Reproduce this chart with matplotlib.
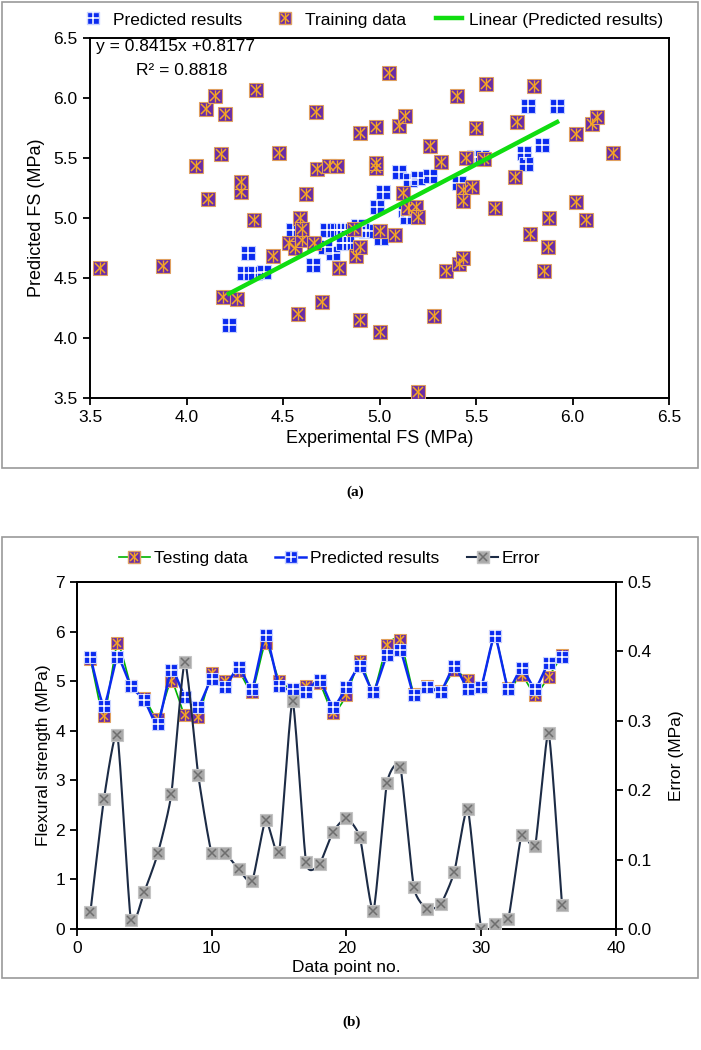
import numpy as np
import matplotlib
matplotlib.use("Agg")
import matplotlib.pyplot as plt
from matplotlib.lines import Line2D
from matplotlib.patches import Rectangle

# ---- data: panel (a) ----
pred_x = [4.22, 4.30, 4.32, 4.355, 4.40, 4.55, 4.657, 4.73, 4.76, 4.78, 4.82, 4.83,
          4.89, 4.93, 4.985, 5.01, 5.02, 5.00, 5.10, 5.13, 5.14, 5.16, 5.20, 5.26,
          5.41, 5.49, 5.53, 5.75, 5.76, 5.77, 5.84, 5.92, 4.91, 4.80, 4.72, 4.81]
pred_y = [4.11, 4.54, 4.71, 4.54, 4.55, 4.90, 4.61, 4.90, 4.71, 4.90, 4.90, 4.79,
          4.93, 4.89, 5.09, 4.83, 5.22, 4.89, 5.38, 5.07, 5.01, 5.32, 5.33, 5.35,
          5.29, 5.51, 5.51, 5.54, 5.45, 5.93, 5.61, 5.93, 4.90, 4.90, 4.76, 4.79]

train_x = [3.55, 3.88, 4.19, 4.26, 4.05, 4.10, 4.15, 4.20, 4.11, 4.18, 4.28, 4.28,
           4.35, 4.36, 4.45, 4.48, 4.53, 4.56, 4.60, 4.66, 4.58, 4.59, 4.60, 4.62,
           4.67, 4.675, 4.70, 4.74, 4.78, 4.79, 4.87, 4.88, 4.90, 4.90, 4.90, 4.98,
           4.98, 4.98, 5.00, 5.00, 5.05, 5.08, 5.10, 5.12, 5.13, 5.15, 5.19, 5.20,
           5.20, 5.26, 5.28, 5.32, 5.345, 5.40, 5.41, 5.43, 5.43, 5.43, 5.45, 5.48,
           5.50, 5.54, 5.55, 5.60, 5.70, 5.71, 5.78, 5.80, 5.85, 5.875, 5.88, 6.02,
           6.02, 6.07, 6.10, 6.125, 6.21]
train_y = [4.58, 4.60, 4.34, 4.325, 5.43, 5.91, 6.02, 5.87, 5.16, 5.53, 5.22, 5.30,
           4.98, 6.07, 4.68, 5.54, 4.79, 4.75, 4.82, 4.79, 4.20, 5.00, 4.91, 5.20,
           5.88, 5.41, 4.30, 5.43, 5.43, 4.58, 4.91, 4.68, 4.76, 4.15, 5.71, 5.76,
           5.42, 5.46, 4.05, 4.89, 6.21, 4.86, 5.77, 5.21, 5.85, 5.08, 5.09, 5.01,
           3.55, 5.60, 4.18, 5.47, 4.56, 6.02, 4.62, 4.67, 5.23, 5.14, 5.50, 5.26,
           5.75, 5.49, 6.12, 5.08, 5.34, 5.80, 4.87, 6.10, 4.56, 4.76, 5.00, 5.70,
           5.13, 4.98, 5.78, 5.84, 5.54]

slope, intercept, r2 = 0.8415, 0.8177, 0.8818

# ---- data: panel (b) ----
point_no = list(range(1, 37))
testing = [5.45, 4.29, 5.76, 4.91, 4.67, 4.24, 5.00, 4.31, 4.28, 5.16, 5.00, 5.20,
           4.79, 5.77, 5.01, 4.85, 4.90, 4.96, 4.35, 4.72, 5.40, 4.79, 5.73, 5.83,
           4.75, 4.90, 4.80, 5.22, 5.02, 4.89, 5.91, 4.86, 5.12, 4.73, 5.09, 5.52]
predicted = [5.48, 4.50, 5.48, 4.90, 4.62, 4.13, 5.22, 4.69, 4.48, 5.05, 4.89, 5.29,
             4.85, 5.93, 4.90, 4.85, 4.79, 5.03, 4.48, 4.88, 5.30, 4.79, 5.52, 5.62,
             4.72, 4.89, 4.79, 5.30, 4.85, 4.89, 5.91, 4.85, 5.26, 4.85, 5.37, 5.49]
error = [0.025, 0.187, 0.279, 0.013, 0.054, 0.109, 0.194, 0.385, 0.222, 0.109, 0.109, 0.086,
         0.069, 0.157, 0.111, 0.328, 0.096, 0.094, 0.140, 0.160, 0.132, 0.026, 0.210, 0.233,
         0.060, 0.029, 0.036, 0.082, 0.173, 0.000, 0.007, 0.014, 0.136, 0.120, 0.282, 0.034]

# colours
BLUE = '#0a2af0'
PURPLE = '#6a2ca6'
ORANGE = '#f5a623'
GREEN = '#10dd10'
NAVY = '#1c2b45'
GREY = '#a9a9a9'

plt.rcParams['font.family'] = ['Liberation Sans', 'DejaVu Sans']
top_fs = 12.5


def smooth(x, y, n=16, tension=0.45):
    # cardinal spline through the points (like Excel smoothed lines)
    x = np.asarray(x, float)
    y = np.asarray(y, float)
    k = len(x)
    t = np.linspace(0, 1, n, endpoint=False)
    h00 = 2 * t**3 - 3 * t**2 + 1
    h10 = t**3 - 2 * t**2 + t
    h01 = -2 * t**3 + 3 * t**2
    h11 = t**3 - t**2
    xs, ys = [], []
    for p, out in ((x, xs), (y, ys)):
        m = np.zeros(k)
        m[1:-1] = (1 - tension) * (p[2:] - p[:-2]) / 2
        m[0] = (1 - tension) * (p[1] - p[0])
        m[-1] = (1 - tension) * (p[-1] - p[-2])
        for i in range(k - 1):
            out.append(h00 * p[i] + h10 * m[i] + h01 * p[i + 1] + h11 * m[i + 1])
        out.append([p[-1]])
    return np.concatenate(xs), np.concatenate(ys)


def blue_marker(ax, x, y, ms, z):
    ax.plot(x, y, ls='none', marker='s', ms=ms, mfc=BLUE, mec='#c8d2ff', mew=0.8, zorder=z)
    ax.plot(x, y, ls='none', marker='+', ms=ms * 0.95, mec='white', mew=1.1, zorder=z)


def purple_marker(ax, x, y, ms, z):
    ax.plot(x, y, ls='none', marker='s', ms=ms, mfc=PURPLE, mec='#e0a060', mew=0.8, zorder=z)
    ax.plot(x, y, ls='none', marker='x', ms=ms * 0.7, mec=ORANGE, mew=1.1, zorder=z)
    ax.plot(x, y, ls='none', marker='|', ms=ms * 0.9, mec=ORANGE, mew=1.0, zorder=z)


def grey_marker(ax, x, y, ms, z):
    ax.plot(x, y, ls='none', marker='s', ms=ms, mfc=GREY, mec='#c4c4c4', mew=0.8, zorder=z)
    ax.plot(x, y, ls='none', marker='x', ms=ms * 0.75, mec='#6e6e6e', mew=1.1, zorder=z)


fig = plt.figure(figsize=(7.01, 10.5), dpi=100)

# panel borders
fig.patches.append(Rectangle((2 / 701, 1 - 468 / 1050), 696 / 701, 466 / 1050,
                             transform=fig.transFigure, fill=False, ec='#9a9a9a', lw=1.2))
fig.patches.append(Rectangle((2 / 701, 1 - 978 / 1050), 696 / 701, 441 / 1050,
                             transform=fig.transFigure, fill=False, ec='#9a9a9a', lw=1.2))

# ---------------- panel (a) ----------------
ax = fig.add_axes([0.1284, 0.621, 0.826, 0.3429])
blue_marker(ax, pred_x, pred_y, 10, 3)
purple_marker(ax, train_x, train_y, 10, 4)
xl = np.array([min(pred_x), max(pred_x)])
ax.plot(xl, slope * xl + intercept, color=GREEN, lw=3.2, zorder=5)

ax.set_xlim(3.5, 6.5)
ax.set_ylim(3.5, 6.5)
ticks = np.arange(3.5, 6.51, 0.5)
ax.set_xticks(ticks)
ax.set_yticks(ticks)
ax.set_xticklabels(['%.1f' % v for v in ticks], fontsize=top_fs)
ax.set_yticklabels(['%.1f' % v for v in ticks], fontsize=top_fs)
for s in ax.spines.values():
    s.set_linewidth(1.4)
ax.tick_params(direction='out', length=5, width=1.3, pad=4)
ax.set_xlabel('Experimental FS (MPa)', fontsize=13, labelpad=3)
ax.set_ylabel('Predicted FS (MPa)', fontsize=13, labelpad=6)
ax.text(0.01, 0.997, 'y = 0.8415x +0.8177', transform=ax.transAxes, va='top',
        fontsize=top_fs)
ax.text(0.08, 0.93, 'R² = 0.8818', transform=ax.transAxes, va='top',
        fontsize=top_fs)

h_pred = (Line2D([], [], ls='none', marker='s', ms=9, mfc=BLUE, mec='#c8d2ff'),
          Line2D([], [], ls='none', marker='+', ms=8.5, mec='white', mew=1.1))
h_train = (Line2D([], [], ls='none', marker='s', ms=9, mfc=PURPLE, mec='#e0a060'),
           Line2D([], [], ls='none', marker='x', ms=6.3, mec=ORANGE, mew=1.1),
           Line2D([], [], ls='none', marker='|', ms=8, mec=ORANGE, mew=1.0))
h_lin = Line2D([], [], color=GREEN, lw=3.2)
fig.legend([h_pred, h_train, h_lin],
           ['Predicted results', 'Training data', 'Linear (Predicted results)'],
           loc='center', bbox_to_anchor=(0.53, 0.981), ncol=3, frameon=False,
           handlelength=1.5, handletextpad=0.4, columnspacing=1.7,
           prop={'size': top_fs})

fig.text(355 / 701, 1 - 492 / 1050, '(a)', ha='center', va='center',
         family='Liberation Serif', fontweight='bold', fontsize=11)

# ---------------- panel (b) ----------------
bx = fig.add_axes([0.1098, 0.1152, 0.7689, 0.3305])
bx2 = bx.twinx()

sx, sy = smooth(point_no, testing)
bx.plot(sx, sy, color='#00b400', lw=1.2, zorder=2)
purple_marker(bx, point_no, testing, 9, 3)
sx, sy = smooth(point_no, predicted)
bx.plot(sx, sy, color=BLUE, lw=1.8, zorder=4)
blue_marker(bx, point_no, predicted, 9, 5)

sx, sy = smooth(point_no, error)
bx2.plot(sx, sy, color=NAVY, lw=1.5, zorder=2)
grey_marker(bx2, point_no, error, 8.5, 3)

bx.set_xlim(0, 40)
bx.set_ylim(0, 7)
bx2.set_ylim(0, 0.5)
bx.set_xticks(range(0, 41, 10))
bx.set_yticks(range(0, 8))
bx2.set_yticks(np.arange(0, 0.51, 0.1))
bx2.set_yticklabels(['%.1f' % v for v in np.arange(0, 0.51, 0.1)])
for a in (bx, bx2):
    for s in a.spines.values():
        s.set_linewidth(1.4)
    a.tick_params(direction='out', length=5, width=1.3, labelsize=12.5)
bx.set_xlabel('Data point no.', fontsize=12.5, labelpad=3)
bx.set_ylabel('Flexural strength (MPa)', fontsize=12.5, labelpad=3)
bx2.set_ylabel('Error (MPa)', fontsize=12.5, labelpad=12)

h_test = (Line2D([], [], color='#00b400', lw=1.2, marker='s', ms=8, mfc=PURPLE, mec='#e0a060'),
          Line2D([], [], ls='none', marker='x', ms=5.6, mec=ORANGE, mew=1.1),
          Line2D([], [], ls='none', marker='|', ms=7.2, mec=ORANGE, mew=1.0))
h_pr = (Line2D([], [], color=BLUE, lw=1.8, marker='s', ms=8, mfc=BLUE, mec='#c8d2ff'),
        Line2D([], [], ls='none', marker='+', ms=7.6, mec='white', mew=1.1))
h_err = (Line2D([], [], color=NAVY, lw=1.5, marker='s', ms=8, mfc=GREY, mec='#c4c4c4'),
         Line2D([], [], ls='none', marker='x', ms=6, mec='#6e6e6e', mew=1.1))
fig.legend([h_test, h_pr, h_err], ['Testing data', 'Predicted results', 'Error'],
           loc='center', bbox_to_anchor=(0.47, 1 - 558 / 1050), ncol=3, frameon=False,
           handlelength=1.8, handletextpad=0.2, columnspacing=1.6, fontsize=12.5)

fig.text(352 / 701, 1 - 1022 / 1050, '(b)', ha='center', va='center',
         family='Liberation Serif', fontweight='bold', fontsize=11)

fig.savefig('out.png', dpi=100)
